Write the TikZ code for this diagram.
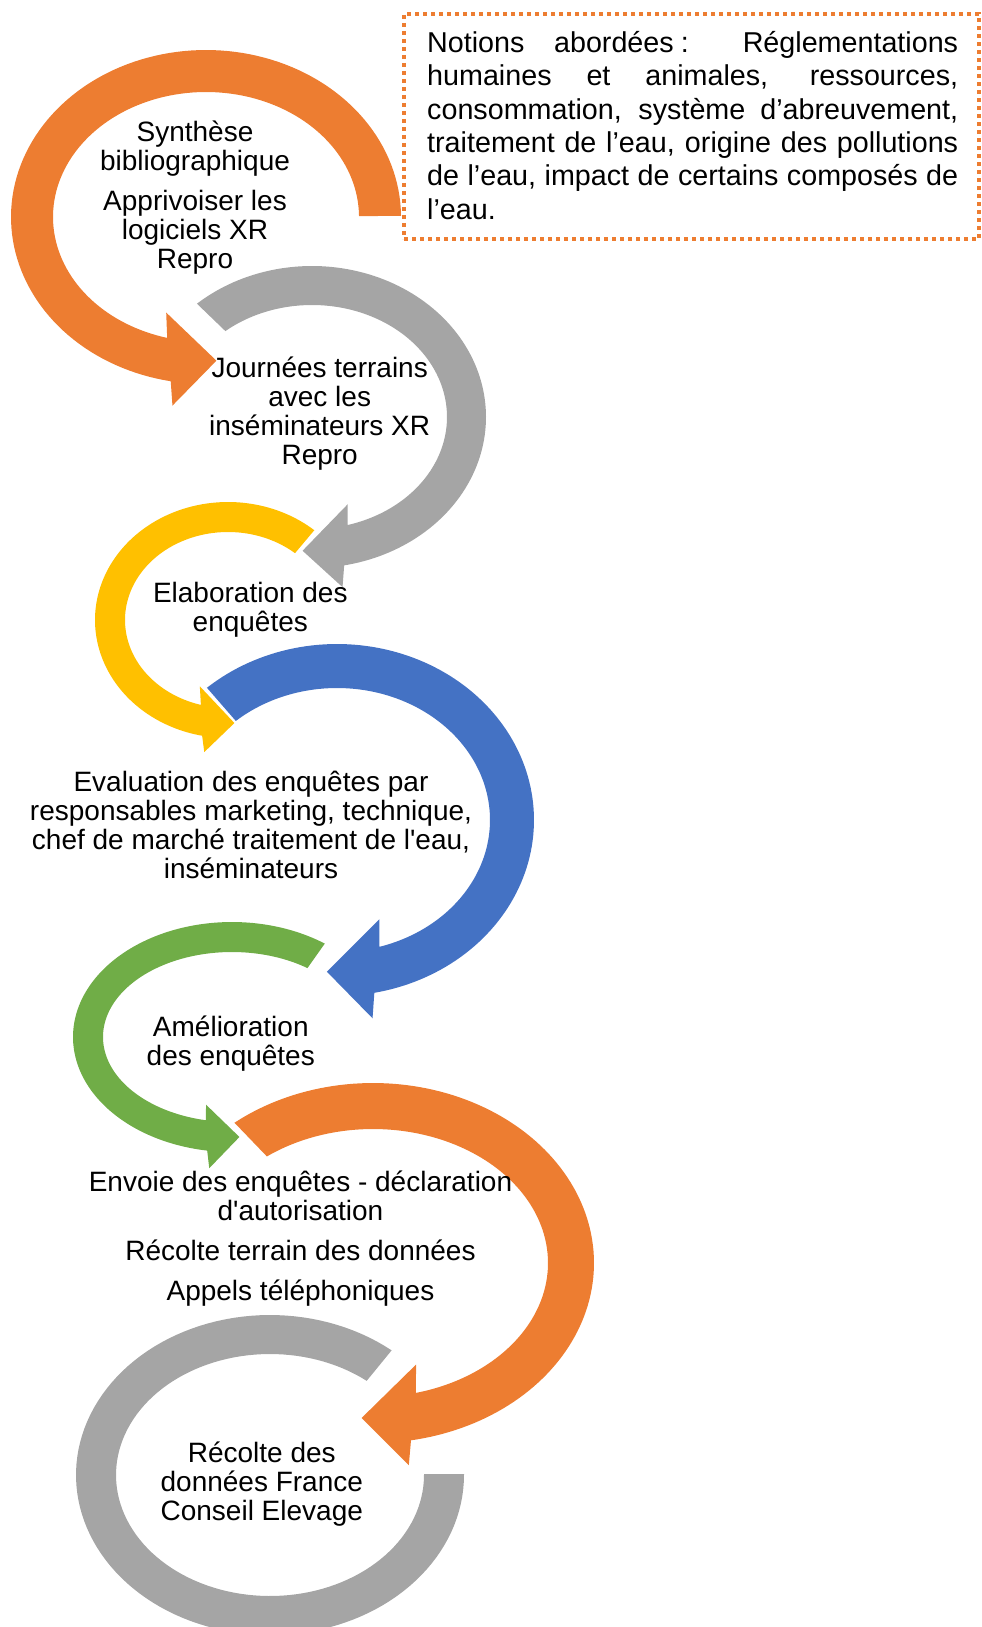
\documentclass[tikz,border=0pt]{standalone}
\usepackage{fontspec}
\newfontfamily\arialf{Liberation Sans}
\definecolor{orangeC}{HTML}{ED7D31}
\definecolor{grayC}{HTML}{A5A5A5}
\definecolor{yellowC}{HTML}{FFC000}
\definecolor{blueC}{HTML}{4472C4}
\definecolor{greenC}{HTML}{70AD47}
\begin{document}
\begin{tikzpicture}[x=1pt,y=-1pt,
  arc/.style={draw=white, line width=2pt, line join=miter},
  smp/.style={samples=120},
  lbl/.style={font=\arialf\fontsize{28}{29}\selectfont, align=center, inner sep=0pt, anchor=base},
  notebox/.style={draw=orangeC, line width=4pt, dash pattern=on 4pt off 4pt, minimum width=575pt, minimum height=225pt, inner sep=0pt},
  notetext/.style={font=\arialf\fontsize{28.7}{33.4}\selectfont, text width=531pt, align=justify, inner sep=0pt, anchor=base west}]
\useasboundingbox (0,0) rectangle (982,1627);
\clip (0,0) rectangle (982,1627);
% 1 orange
\fill[arc, orangeC] plot[smp, domain=-0.7:-259.8] ({206+194*cos(\x)},{217+166*sin(\x)})
  -- (173.3,403.3) -- (215,360.7) -- (167.3,315)
  -- plot[smp, domain=-255.8:-0.9] ({206+154*cos(\x)},{217+126*sin(\x)}) -- cycle;
% 2 gray
\fill[arc, grayC] plot[smp, domain=-131:79.6] ({312+173*cos(\x)},{417+150*sin(\x)})
  -- (341.7,585) -- (304,550.7) -- (346.7,506.7)
  -- plot[smp, domain=75.2:-129.5] ({312+136*cos(\x)},{417+113*sin(\x)}) -- cycle;
% 3 yellow
\fill[arc, yellowC] plot[smp, domain=-50:-259.1] ({228+132*cos(\x)},{620+117*sin(\x)})
  -- (205,750) -- (233,723) -- (201,689)
  -- plot[smp, domain=-255.5:-50] ({228+104*cos(\x)},{620+89*sin(\x)}) -- cycle;
% 4 blue
\fill[arc, blueC] plot[smp, domain=-131:79.3] ({337+196*cos(\x)},{820+175*sin(\x)})
  -- (371.7,1016) -- (328.3,971.7) -- (378.3,921.7)
  -- plot[smp, domain=74.4:-131] ({337+154*cos(\x)},{820+133*sin(\x)}) -- cycle;
% 5 green
\fill[arc, greenC] plot[smp, domain=-54.7:-261.3] ({232+158*cos(\x)},{1037+114*sin(\x)})
  -- (210,1166) -- (238,1137) -- (207,1107)
  -- plot[smp, domain=-258.9:-54.7] ({232+130*cos(\x)},{1037+86*sin(\x)}) -- cycle;
% 6 orange
\fill[arc, orangeC] plot[smp, domain=-128.5:80.3] ({373+220*cos(\x)},{1263+179*sin(\x)})
  -- (408,1463) -- (363,1418) -- (415,1367)
  -- plot[smp, domain=76.2:-127] ({373+176*cos(\x)},{1263+135*sin(\x)}) -- cycle;
% 7 gray (no head)
\fill[arc, grayC] plot[smp, domain=-51.5:-360] ({270+193*cos(\x)},{1475+159*sin(\x)})
  -- plot[smp, domain=-360:-51.5] ({270+155*cos(\x)},{1475+122*sin(\x)}) -- cycle;
% texts (anchored at the baseline of their last line)
\node[lbl] (t1) at (195,268.3) {Synthèse\\bibliographique\\[11pt]Apprivoiser les\\logiciels XR\\Repro};
\node[lbl] (t2) at (319.7,464.3) {Journées terrains\\avec les\\inséminateurs XR\\Repro};
\node[lbl] (t3) at (250.3,631.7) {Elaboration des\\enquêtes};
\node[lbl] (t4) at (251,878.3) {Evaluation des enquêtes par\\responsables marketing, technique,\\chef de marché traitement de l'eau,\\inséminateurs};
\node[lbl] (t5) at (230.8,1065.7) {Amélioration\\des enquêtes};
\node[lbl] (t6) at (300.5,1300) {Envoie des enquêtes - déclaration\\d'autorisation\\[11pt]Récolte terrain des données\\[11pt]Appels téléphoniques};
\node[lbl] (t7) at (261.8,1520.7) {Récolte des\\données France\\Conseil Elevage};
% note box
\node[notebox] (box) at (691.5,126.5) {};
\node[notetext] (note) at (427,52.3) {\tolerance=9999\hbadness=10000 Notions abordées\hspace{0.25em}: Réglementations\linebreak humaines et animales, ressources,\linebreak consommation, système d’abreuvement,\linebreak traitement de l’eau, origine des pollutions\linebreak de l’eau, impact de certains composés de\linebreak l’eau.};
\end{tikzpicture}
\end{document}
